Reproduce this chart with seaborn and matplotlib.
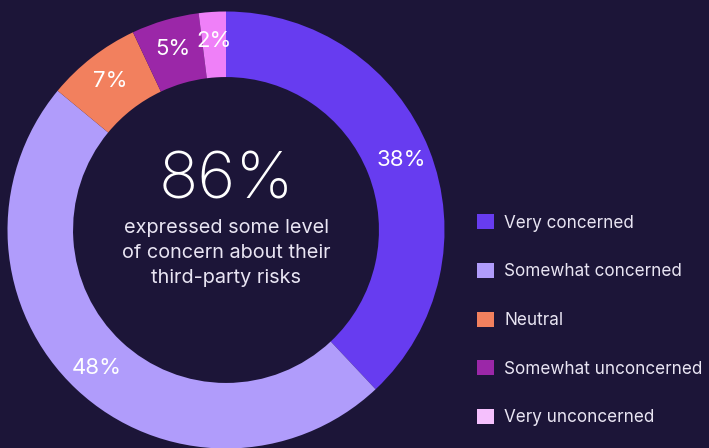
import matplotlib
matplotlib.use("Agg")
import matplotlib.pyplot as plt
from matplotlib.patches import Patch
import seaborn as sns

categories = ["Very concerned", "Somewhat concerned", "Neutral",
              "Somewhat unconcerned", "Very unconcerned"]
shares = [38, 48, 7, 5, 2]
slice_colors = ["#673cf0", "#b09cfb", "#f2805e", "#9b27a8", "#ef80f8"]
legend_colors = ["#673cf0", "#b09cfb", "#f2805e", "#9b27a8", "#f5c0fd"]
headline = "86%"
subtitle = "expressed some level\nof concern about their\nthird-party risks"

BG = "#1c1538"
TEXT = "#ffffff"
SOFT_TEXT = "#e9e5f3"

sns.set_style("dark")
plt.rcParams["font.family"] = ["Inter", "DejaVu Sans"]

fig = plt.figure(figsize=(7.09, 4.48), dpi=100, facecolor=BG)
# donut axes: centre at (226, 230) px, outer radius ~218 px
R = 218.5
cx, cy = 226, 448 - 230
ax = fig.add_axes([(cx - R) / 709, (cy - R) / 448, 2 * R / 709, 2 * R / 448])
ax.set_facecolor(BG)

palette = sns.color_palette(slice_colors)
wedges, texts, autotexts = ax.pie(
    shares,
    colors=palette,
    startangle=90,
    counterclock=False,
    radius=1.0,
    wedgeprops=dict(width=0.30, edgecolor="none"),
    autopct=lambda p: f"{p:.0f}%",
    pctdistance=0.865,
    textprops=dict(color=TEXT, fontsize=16),
)
ax.set_xlim(-1, 1)
ax.set_ylim(-1, 1)
ax.set_aspect("equal")
ax.axis("off")

ax.text(0, 0.22, headline, ha="center", va="center", color=TEXT,
        fontsize=47, fontweight="light")
ax.text(0, -0.105, subtitle, ha="center", va="center", color=SOFT_TEXT,
        fontsize=14.3, linespacing=1.5)

handles = [Patch(facecolor=sns.color_palette(legend_colors)[i], edgecolor="none")
           for i in range(len(categories))]
leg = fig.legend(
    handles, categories,
    loc="upper left",
    bbox_to_anchor=(462 / 709, 1 - 199 / 448),
    frameon=False,
    handlelength=0.98, handleheight=0.98,
    handletextpad=0.6,
    labelspacing=1.83,
    fontsize=12.3,
    labelcolor=SOFT_TEXT,
)

fig.savefig("out.png", dpi=100, facecolor=BG)
